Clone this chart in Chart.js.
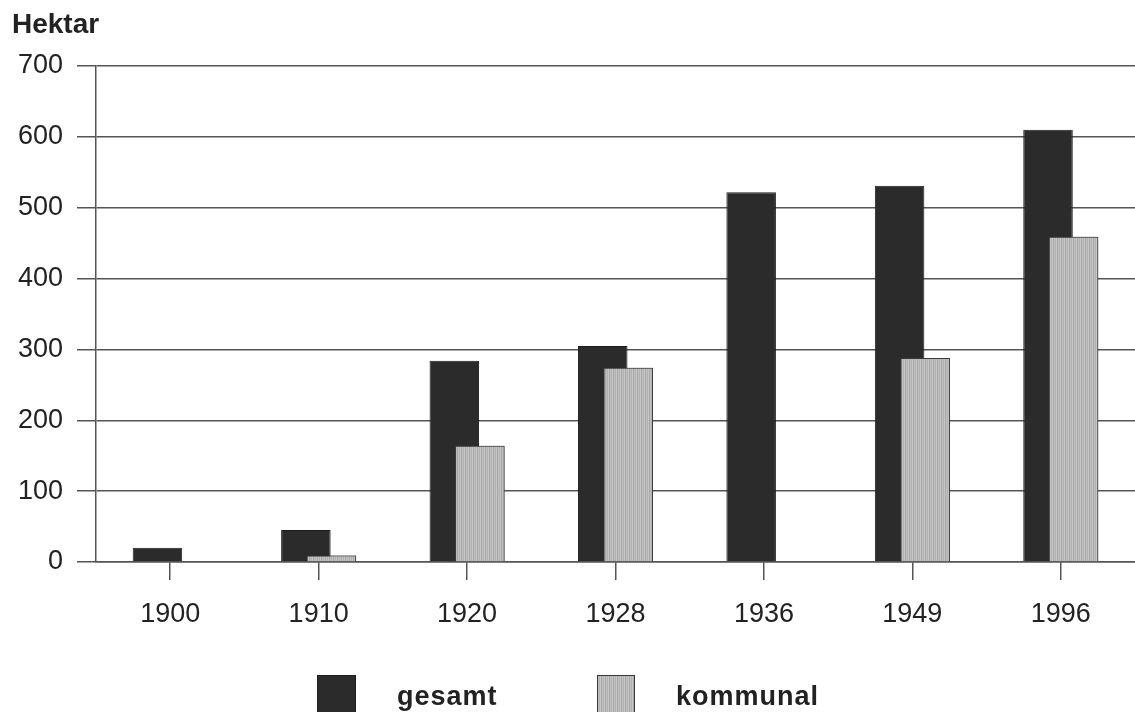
<!DOCTYPE html>
<html>
<head>
<meta charset="utf-8">
<script src="https://cdn.jsdelivr.net/npm/chart.js@4/dist/chart.umd.min.js"></script>
<style>
  html, body { margin: 0; padding: 0; background: #ffffff; }
  #wrap { position: relative; width: 1135px; height: 712px; }
</style>
</head>
<body>
<div id="wrap"><canvas id="chart"></canvas></div>
<script>
// Fläche in Hektar, nach Stichjahr
const years = ['1900', '1910', '1920', '1928', '1936', '1949', '1996'];
const gesamt = [20, 45, 284, 305, 522, 531, 610];
const kommunal = [null, 9, 164, 274, null, 288, 459];
const yMin = 0;
const yMax = 700;
const yStep = 100;
const unitLabel = 'Hektar';

const FONT = '"Liberation Sans", Arial, sans-serif';
const darkFill = '#2b2b2b';

// vertical hatching for the light series
function stripePattern() {
  const c = document.createElement('canvas');
  c.width = 4; c.height = 4;
  const g = c.getContext('2d');
  const cols = ['#c6c6c6', '#a8a8a8', '#bfbfbf', '#b2b2b2'];
  cols.forEach((col, i) => { g.fillStyle = col; g.fillRect(i, 0, 1, 4); });
  return g.createPattern(c, 'repeat');
}
const lightFill = stripePattern();

// the second series overlaps the first one, so paint it again on top
const overlapOnTop = {
  id: 'overlapOnTop',
  afterDatasetsDraw(chart) {
    const meta = chart.getDatasetMeta(1);
    if (!meta.hidden) meta.controller.draw();
  }
};

// unit caption above the value axis and the legend below the chart
const annotations = {
  id: 'annotations',
  afterDraw(chart) {
    const ctx = chart.ctx;
    ctx.save();
    ctx.fillStyle = '#222';
    ctx.textBaseline = 'alphabetic';
    ctx.textAlign = 'left';
    ctx.font = 'bold 28px ' + FONT;
    ctx.fillText(unitLabel, 12, 33);

    const slots = [{ box: 317, w: 39, text: 397 }, { box: 597, w: 38, text: 676 }];
    chart.data.datasets.forEach((ds, i) => {
      const s = slots[i];
      ctx.fillStyle = ds.backgroundColor;
      ctx.fillRect(s.box, 675, s.w, 40);
      ctx.strokeStyle = ds.borderColor;
      ctx.lineWidth = 1;
      ctx.strokeRect(s.box + 0.5, 675.5, s.w - 1, 40);
      ctx.fillStyle = '#222';
      ctx.font = 'bold 27px ' + FONT;
      if ('letterSpacing' in ctx) ctx.letterSpacing = '1px';
      ctx.fillText(ds.label, s.text, 705);
      if ('letterSpacing' in ctx) ctx.letterSpacing = '0px';
    });
    ctx.restore();
  }
};

new Chart(document.getElementById('chart'), {
  type: 'bar',
  data: {
    labels: years,
    datasets: [
      {
        label: 'gesamt',
        data: gesamt,
        backgroundColor: darkFill,
        borderColor: '#1e1e1e',
        borderWidth: 1,
        categoryPercentage: 0.344,
        barPercentage: 1.94
      },
      {
        label: 'kommunal',
        data: kommunal,
        backgroundColor: lightFill,
        borderColor: '#3a3a3a',
        borderWidth: 1,
        categoryPercentage: 0.344,
        barPercentage: 1.94
      }
    ]
  },
  options: {
    responsive: true,
    maintainAspectRatio: false,
    animation: false,
    layout: { padding: { top: 66, right: 0, left: 0, bottom: 0 } },
    plugins: {
      legend: { display: false },
      tooltip: { enabled: false },
      title: { display: false }
    },
    scales: {
      x: {
        grid: {
          offset: false,
          drawOnChartArea: false,
          drawTicks: true,
          tickLength: 18,
          color: '#555',
          lineWidth: 1.5
        },
        border: { display: true, color: '#555', width: 1.5 },
        ticks: {
          color: '#222',
          font: { family: FONT, size: 27 },
          padding: 18,
          maxRotation: 0
        },
        afterFit(scale) { scale.height = 150; }
      },
      y: {
        min: yMin,
        max: yMax,
        ticks: {
          stepSize: yStep,
          color: '#222',
          font: { family: FONT, size: 27 },
          padding: 14
        },
        grid: {
          color: '#555',
          lineWidth: 1.5,
          drawTicks: true,
          tickLength: 19
        },
        border: { display: true, color: '#555', width: 1.5 },
        afterFit(scale) { scale.width = 96; }
      }
    }
  },
  plugins: [overlapOnTop, annotations]
});
</script>
</body>
</html>
